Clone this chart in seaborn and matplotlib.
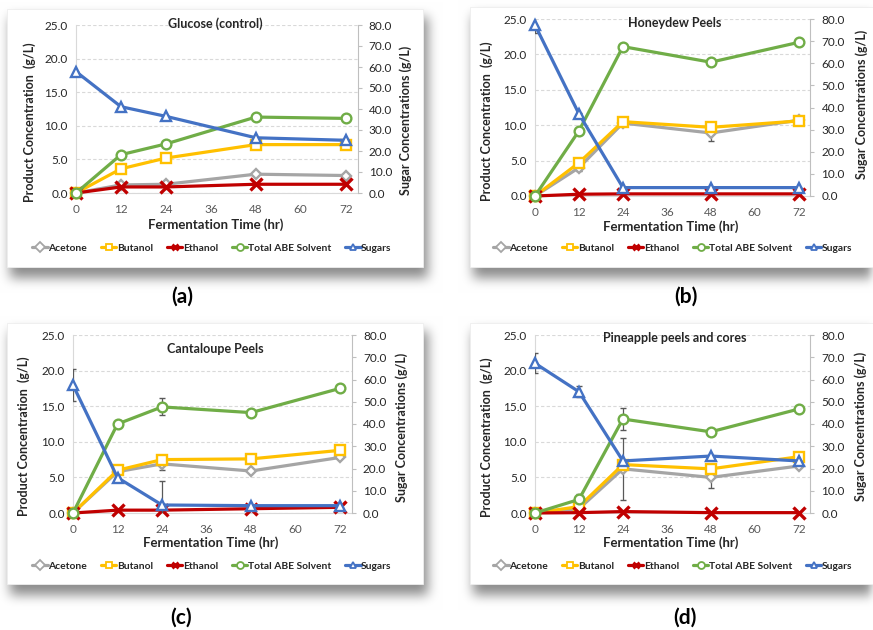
import numpy as np
import pandas as pd
import seaborn as sns
import matplotlib
matplotlib.use("Agg")
import matplotlib.pyplot as plt
from matplotlib.lines import Line2D
from matplotlib.patches import Rectangle

sns.set_theme(style="white")
plt.rcParams["font.family"] = ["Lato", "DejaVu Sans"]

# ---------------- data ----------------
times = [0, 12, 24, 48, 72]
x_ticks = [0, 12, 24, 36, 48, 60, 72]
left_ticks = [0, 5, 10, 15, 20, 25]
right_ticks = [0, 10, 20, 30, 40, 50, 60, 70, 80]
series_names = ["Acetone", "Butanol", "Ethanol", "Total ABE Solvent", "Sugars"]
panel_titles = ["Glucose (control)", "Honeydew Peels", "Cantaloupe Peels", "Pineapple peels and cores"]
panel_tags = ["(a)", "(b)", "(c)", "(d)"]
x_label = "Fermentation Time (hr)"
left_label = "Product Concentration  (g/L)"
right_label = "Sugar Concentrations (g/L)"

# (a) Glucose
acetone_a = [0, 1.2, 1.3, 2.8, 2.6]
butanol_a = [0, 3.6, 5.2, 7.2, 7.2]
ethanol_a = [0, 0.9, 0.9, 1.3, 1.3]
total_a = [0, 5.7, 7.3, 11.3, 11.1]
sugar_a = [57.8, 41.1, 36.5, 26.3, 25.1]
err_acetone_a = [0, 0, 0, 0, 0]
err_total_a = [0, 0, 0, 0, 0]
err_sugar_a = [0, 0, 0, 0, 0]

# (b) Honeydew
acetone_b = [0, 4.0, 10.3, 8.9, 10.7]
butanol_b = [0, 4.7, 10.5, 9.7, 10.6]
ethanol_b = [0, 0.25, 0.3, 0.3, 0.3]
total_b = [0, 9.2, 21.1, 18.9, 21.7]
sugar_b = [77.3, 37.1, 3.8, 3.8, 3.8]
err_acetone_b = [0, 0.4, 0.3, 1.2, 0.2]
err_total_b = [0, 0, 0, 0, 0]
err_sugar_b = [3.8, 0.5, 0, 0, 0]

# (c) Cantaloupe
acetone_c = [0, 5.8, 6.9, 5.9, 7.8]
butanol_c = [0, 6.0, 7.5, 7.6, 8.8]
ethanol_c = [0, 0.4, 0.4, 0.6, 0.8]
total_c = [0, 12.5, 14.9, 14.1, 17.5]
sugar_c = [57.5, 15.9, 3.6, 3.3, 3.3]
err_acetone_c = [0, 0, 0.8, 0, 0]
err_total_c = [0, 0, 1.2, 0, 0]
err_sugar_c = [7.0, 0, 11.0, 0, 0]

# (d) Pineapple
acetone_d = [0, 0.6, 6.2, 5.0, 6.6]
butanol_d = [0, 0.9, 6.8, 6.2, 7.9]
ethanol_d = [0, 0.05, 0.2, 0.05, 0.05]
total_d = [0, 1.9, 13.2, 11.4, 14.6]
sugar_d = [67.3, 54.5, 23.4, 25.6, 23.4]
err_acetone_d = [0, 0, 4.4, 1.45, 0]
err_total_d = [0, 0.8, 1.5, 0, 0]
err_sugar_d = [4.5, 2.5, 0, 0, 0]

panels = [
    (acetone_a, butanol_a, ethanol_a, total_a, sugar_a, err_acetone_a, err_total_a, err_sugar_a),
    (acetone_b, butanol_b, ethanol_b, total_b, sugar_b, err_acetone_b, err_total_b, err_sugar_b),
    (acetone_c, butanol_c, ethanol_c, total_c, sugar_c, err_acetone_c, err_total_c, err_sugar_c),
    (acetone_d, butanol_d, ethanol_d, total_d, sugar_d, err_acetone_d, err_total_d, err_sugar_d),
]

# ---------------- styles ----------------
colors = ["#A5A5A5", "#FFC000", "#C00000", "#70AD47", "#4472C4"]
markers = ["D", "s", "x", "o", "^"]
msizes = [5.5, 6.5, 8, 7, 7.5]

W, H = 873, 630
XMAX = 75.2

# layout in pixels
axes_px = [  # left, top, x-of-72, bottom
    (76, 25, 345.7, 193),
    (535, 19, 798.7, 196),
    (73, 335, 340, 513),
    (535, 335, 798.7, 513),
]
cards_px = [(7, 9, 423, 267), (470, 7, 885, 267), (7, 323, 423, 584), (470, 323, 885, 584)]
title_px = [(215, 24), (675, 23), (215, 349), (675, 338)]
xlabel_px = [(216, 225), (671, 227), (211, 543), (671, 543)]
lylabel_px = [(30, 122), (487, 121), (24, 436), (487, 437)]
rylabel_px = [(406, 120), (862, 104), (402, 427), (861, 426)]
legend_px = [(212, 248), (673, 248), (212, 566), (673, 566)]
tag_px = [(182, 297), (686, 297), (181, 618), (685, 618)]


def fx(x):
    return x / W


def fy(y):
    return 1 - y / H


fig = plt.figure(figsize=(W / 100, H / 100), dpi=100)

# ---- background with soft card shadows ----
bg = fig.add_axes([0, 0, 1, 1], zorder=-10)
bg.set_xlim(0, W)
bg.set_ylim(H, 0)
bg.axis("off")
mask = np.zeros((H, W))
for (l, t, r, b) in cards_px:
    mask[int(t + 8):int(min(b + 11, H)), int(l + 3):int(min(r + 5, W))] = 1.0


def box_blur(a, k):
    ker = np.ones(k) / k
    a = np.apply_along_axis(lambda m: np.convolve(m, ker, mode="same"), 0, a)
    a = np.apply_along_axis(lambda m: np.convolve(m, ker, mode="same"), 1, a)
    return a


shadow = box_blur(box_blur(box_blur(mask, 11), 11), 11)
img = 1 - 0.45 * shadow
bg.imshow(np.dstack([img, img, img]), extent=(0, W, H, 0), aspect="auto", zorder=0)
for (l, t, r, b) in cards_px:
    bg.add_patch(Rectangle((l, t), r - l, b - t, facecolor="white", edgecolor="#EEEEEE", lw=0.6, zorder=1))

for i, data in enumerate(panels):
    ac, bu, et, to, su, e_ac, e_to, e_su = data
    l, t, x72, b = axes_px[i]
    r = l + (x72 - l) * XMAX / 72
    ax = fig.add_axes([fx(l), fy(b), (r - l) / W, (b - t) / H])
    ax.set_facecolor("none")
    ax2 = ax.twinx()
    ax2.set_facecolor("none")

    left_series = [ac, bu, et, to]
    for k, vals in enumerate(left_series):
        df = pd.DataFrame({"t": times, "v": vals})
        mk = markers[k]
        sns.lineplot(data=df, x="t", y="v", ax=ax, color=colors[k], lw=2.3,
                     marker=mk, markersize=msizes[k],
                     markerfacecolor="white" if mk != "x" else colors[k],
                     markeredgecolor=colors[k], markeredgewidth=1.7 if mk != "x" else 2.4,
                     zorder=3 + k, clip_on=False)
    ax.errorbar(times, ac, yerr=e_ac, fmt="none", ecolor="#595959", elinewidth=0.9, capsize=2, zorder=2)
    ax.errorbar(times, to, yerr=e_to, fmt="none", ecolor="#595959", elinewidth=0.9, capsize=2, zorder=2)

    dfs = pd.DataFrame({"t": times, "v": su})
    sns.lineplot(data=dfs, x="t", y="v", ax=ax2, color=colors[4], lw=2.3,
                 marker="^", markersize=msizes[4], markerfacecolor="white",
                 markeredgecolor=colors[4], markeredgewidth=1.7, zorder=5, clip_on=False)
    ax2.errorbar(times, su, yerr=e_su, fmt="none", ecolor="#595959", elinewidth=0.9, capsize=2, zorder=4)

    ax.set_xlim(0, XMAX)
    ax.set_ylim(0, 25)
    ax2.set_ylim(0, 80)
    ax.set_xticks(x_ticks)
    ax.set_yticks(left_ticks)
    ax2.set_yticks(right_ticks)
    ax.set_xticklabels([str(v) for v in x_ticks])
    ax.set_yticklabels([f"{v:.1f}" for v in left_ticks])
    ax2.set_yticklabels([f"{v:.1f}" for v in right_ticks])
    ax.set_xlabel("")
    ax.set_ylabel("")
    ax2.set_xlabel("")
    ax2.set_ylabel("")

    ax.grid(False)
    ax2.grid(False)
    ax.yaxis.grid(True, color="#D9D9D9", linestyle=(0, (3, 2)), lw=0.8)
    ax.set_axisbelow(True)

    for sp in ["top", "right"]:
        ax.spines[sp].set_visible(False)
    for sp in ["top", "left", "bottom"]:
        ax2.spines[sp].set_visible(False)
    ax.spines["left"].set_color("#D9D9D9")
    ax.spines["bottom"].set_color("#D9D9D9")
    ax2.spines["right"].set_color("#BFBFBF")
    for sp in [ax.spines["left"], ax.spines["bottom"], ax2.spines["right"]]:
        sp.set_linewidth(0.8)

    ax.tick_params(axis="x", length=0, pad=8, labelsize=8.5, labelcolor="#595959")
    ax.tick_params(axis="y", length=0, pad=6, labelsize=8.5, labelcolor="#262626")
    ax2.tick_params(axis="y", length=3, width=0.8, color="#BFBFBF", pad=5, labelsize=8.5, labelcolor="#262626")

    fig.text(fx(title_px[i][0]), fy(title_px[i][1]), panel_titles[i], ha="center", va="center",
             fontsize=9, fontweight="bold", color="#262626")
    fig.text(fx(xlabel_px[i][0]), fy(xlabel_px[i][1]), x_label, ha="center", va="center",
             fontsize=9.5, fontweight="bold", color="#262626")
    fig.text(fx(lylabel_px[i][0]), fy(lylabel_px[i][1]), left_label, ha="center", va="center",
             rotation=90, fontsize=9, fontweight="bold", color="#262626")
    fig.text(fx(rylabel_px[i][0]), fy(rylabel_px[i][1]), right_label, ha="center", va="center",
             rotation=90, fontsize=9, fontweight="bold", color="#262626")
    fig.text(fx(tag_px[i][0]), fy(tag_px[i][1]), panel_tags[i], ha="center", va="center",
             fontsize=15, fontweight="bold", color="black")

    handles = []
    for k in range(5):
        mk = markers[k]
        handles.append(Line2D([0], [0], color=colors[k], lw=2.3, marker=mk, markersize=5,
                              markerfacecolor="white" if mk != "x" else colors[k],
                              markeredgecolor=colors[k], markeredgewidth=1.3 if mk != "x" else 2.0))
    fig.legend(handles, series_names, loc="center", bbox_to_anchor=(fx(legend_px[i][0]), fy(legend_px[i][1])),
               ncol=5, frameon=False, handlelength=1.5, handletextpad=0.05, columnspacing=1.35,
               prop={"size": 7.4, "weight": "bold"}, labelcolor="#262626")

fig.savefig("out.png", dpi=100)
